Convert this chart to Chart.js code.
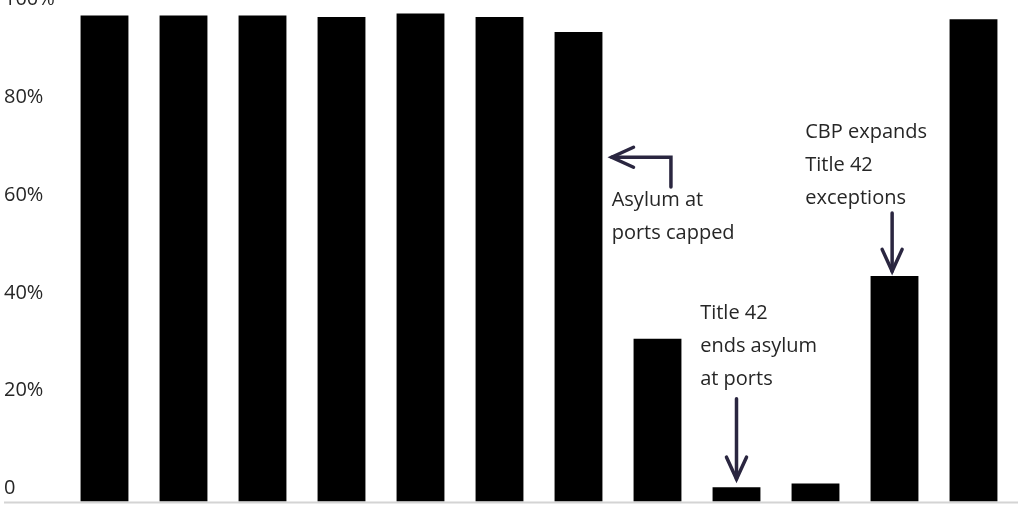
<!DOCTYPE html>
<html>
<head>
<meta charset="utf-8">
<script src="https://cdn.jsdelivr.net/npm/chart.js@4.4.1/dist/chart.umd.min.js"></script>
<style>
  html, body { margin: 0; padding: 0; background: #fff; }
  #wrap { width: 1024px; height: 512px; }
</style>
</head>
<body>
<div id="wrap"><canvas id="asylum-chart" width="1024" height="512"></canvas></div>
<script>
    // share per period (x labels are not shown in the original)
    const periods = ["P1", "P2", "P3", "P4", "P5", "P6", "P7", "P8", "P9", "P10", "P11", "P12"];
    const shares = [99.4, 99.4, 99.4, 99.1, 99.8, 99.1, 96.0, 33.3, 2.9, 3.7, 46.1, 98.6];
    const tickValues = [0, 20, 40, 60, 80, 100];
    const tickLabels = ["0", "20%", "40%", "60%", "80%", "100%"];

    // annotation text: x in category index units, y = value of the first baseline
    const noteLines = [["Asylum at", "ports capped"], ["Title 42", "ends asylum", "at ports"], ["CBP expands", "Title 42", "exceptions"]];
    const noteX = [6.42, 7.54, 8.87];
    const noteY = [60.4, 37.3, 74.3];
    // arrows: polylines in (index, value) pairs, head at the last point
    const arrowPaths = [
        [[7.17, 64.3], [7.17, 70.4], [6.42, 70.4]],
        [[8.0, 21.0], [8.0, 4.6]],
        [[9.97, 59.0], [9.97, 47.1]]
    ];

    const FONT = "'Open Sans', 'Liberation Sans', sans-serif";

    const dataObj = {
        labels: periods,
        datasets: [
            {
                data: shares,
                backgroundColor: "#000000",
                borderWidth: 0,
                barPercentage: 0.606,
                categoryPercentage: 1.0
            }
        ]
    };

    // gray zero line that runs under the labels too
    const baseLine = {
        id: "baseLine",
        beforeDatasetsDraw(chart) {
            const ctx = chart.ctx;
            const y0 = chart.scales.y.getPixelForValue(0);
            ctx.save();
            ctx.strokeStyle = "#d4d4d4";
            ctx.lineWidth = 2;
            ctx.beginPath();
            ctx.moveTo(4, y0 + 1);
            ctx.lineTo(1018, y0 + 1);
            ctx.stroke();
            ctx.restore();
        }
    };

    const notes = {
        id: "notes",
        afterDatasetsDraw(chart) {
            const ctx = chart.ctx;
            const xs = chart.scales.x, ys = chart.scales.y;
            ctx.save();
            ctx.fillStyle = "#262626";
            ctx.font = "20px " + FONT;
            ctx.textAlign = "left";
            ctx.textBaseline = "alphabetic";
            noteLines.forEach((lines, i) => {
                const x = xs.getPixelForValue(noteX[i]);
                const y = ys.getPixelForValue(noteY[i]);
                lines.forEach((t, j) => ctx.fillText(t, x, y + j * 33));
            });

            ctx.strokeStyle = "#2a2640";
            ctx.lineWidth = 3.5;
            ctx.lineCap = "round";
            ctx.lineJoin = "miter";
            arrowPaths.forEach(path => {
                const pts = path.map(p => [xs.getPixelForValue(p[0]), ys.getPixelForValue(p[1])]);
                ctx.beginPath();
                ctx.moveTo(pts[0][0], pts[0][1]);
                for (let k = 1; k < pts.length; k++) ctx.lineTo(pts[k][0], pts[k][1]);
                ctx.stroke();
                const a = pts[pts.length - 2], b = pts[pts.length - 1];
                const ang = Math.atan2(b[1] - a[1], b[0] - a[0]);
                const len = 24, spread = 0.43;
                ctx.beginPath();
                ctx.moveTo(b[0] - len * Math.cos(ang - spread), b[1] - len * Math.sin(ang - spread));
                ctx.lineTo(b[0], b[1]);
                ctx.lineTo(b[0] - len * Math.cos(ang + spread), b[1] - len * Math.sin(ang + spread));
                ctx.stroke();
            });
            ctx.restore();
        }
    };

    new Chart("asylum-chart", {
        type: "bar",
        data: dataObj,
        plugins: [baseLine, notes],
        options: {
            responsive: false,
            animation: false,
            layout: { padding: { left: 4, top: 0, right: 11, bottom: 0 } },
            plugins: { legend: { display: false }, tooltip: { enabled: false } },
            scales: {
                x: { display: false },
                y: {
                    min: 0,
                    max: 100,
                    border: { display: false },
                    grid: { display: false },
                    afterFit(scale) {
                        scale.width = 61;
                        scale.paddingTop = 12.5;
                        scale.paddingBottom = 10.5;
                    },
                    afterBuildTicks(scale) { scale.ticks = tickValues.map(v => ({ value: v })); },
                    ticks: {
                        crossAlign: "far",
                        labelOffset: -13,
                        color: "#262626",
                        font: { family: FONT, size: 20 },
                        callback: (v) => tickLabels[tickValues.indexOf(v)]
                    }
                }
            }
        }
    });
</script>
</body>
</html>
